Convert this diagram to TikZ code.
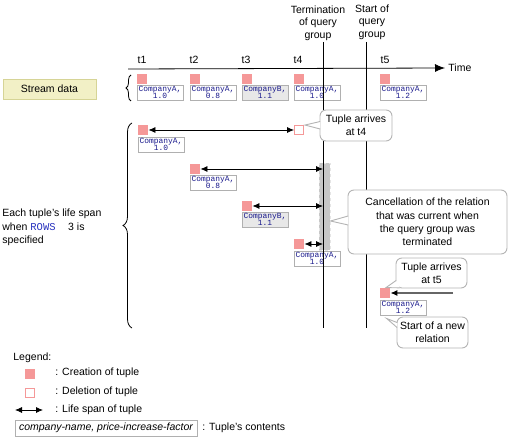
\documentclass[tikz,border=0pt]{standalone}
\usepackage{fontspec}
\setmainfont{Liberation Sans}
\setmonofont{Liberation Mono}
\usetikzlibrary{arrows.meta,calc,decorations.pathreplacing}

\definecolor{tuplepink}{RGB}{245,152,152}
\definecolor{tuplenavy}{RGB}{25,25,140}
\definecolor{rowsblue}{RGB}{40,50,190}
\definecolor{boxgray}{RGB}{176,176,176}
\definecolor{calloutgray}{RGB}{180,180,180}
\definecolor{streamfill}{RGB}{242,240,198}
\definecolor{streamedge}{RGB}{214,212,150}

\begin{document}
\begin{tikzpicture}[x=1pt,y=-1pt,line width=0.8pt,>={Latex[length=7pt,width=6pt]},
  font=\fontsize{10.5}{13.3}\selectfont,
  born/.style={fill=tuplepink,minimum size=10pt,inner sep=0pt},
  dead/.style={draw=tuplepink,fill=white,line width=0.9pt,minimum size=9pt,inner sep=0pt},
  tuple/.style={draw=boxgray,fill=white,line width=0.9pt,minimum width=46pt,minimum height=15pt,
    inner sep=0pt,align=center,text=tuplenavy,font=\fontsize{7.9}{7}\selectfont\ttfamily},
  callbox/.style={draw=calloutgray,fill=white,line width=0.9pt,rounded corners=6pt,align=center,inner sep=0pt},
  callline/.style={draw=calloutgray,fill=white,line width=0.9pt},
  cancelbar/.style={fill=black!22,draw=black!10,dashed,line width=0.9pt,inner sep=0pt}]
  \useasboundingbox (0,0) rectangle (508,438);

  % time axis and query group borders
  \coordinate (axis0) at (128,69);
  \node[anchor=west,inner sep=3pt] (time) at (445,68) {Time};
  \draw[-{Latex[length=10pt,width=8pt]}] (axis0) -- (time.west);
  \node (t1) at (142,60) {t1};
  \node (t2) at (194,60) {t2};
  \node (t3) at (246,60) {t3};
  \node (t4) at (298,60) {t4};
  \node (t5) at (385,60) {t5};
  \node[align=center,font=\fontsize{10.5}{12.5}\selectfont] (termlbl) at (318,23) {Termination\\of query\\group};
  \node[align=center,font=\fontsize{10.5}{12.5}\selectfont] (startlbl) at (372,22) {Start of\\query\\group};
  \coordinate (termtop) at (323,42);
  \coordinate (termbot) at (323,328);
  \coordinate (starttop) at (366,42);
  \coordinate (startbot) at (366,328);

  % stream data
  \node[draw=streamedge,fill=streamfill,line width=0.9pt,minimum width=93pt,minimum height=20pt] (stream) at (49.5,89) {Stream data};
  \coordinate (sbr0) at (131,101);
  \coordinate (sbr1) at (131,75);
  \draw[decorate,decoration={brace,amplitude=5pt}] (sbr0) -- (sbr1);
  \node[born] (s1) at (142,79.5) {};
  \node[tuple] (s1t) at (160,92.5) {CompanyA,\\1.0};
  \node[born] (s2) at (195,79.5) {};
  \node[tuple] (s2t) at (213,92.5) {CompanyA,\\0.8};
  \node[born] (s3) at (247,79.5) {};
  \node[tuple,fill=black!9] (s3t) at (265,92.5) {CompanyB,\\1.1};
  \node[born] (s4) at (299,79.5) {};
  \node[tuple] (s4t) at (317,92.5) {CompanyA,\\1.0};
  \node[born] (s5) at (385,79.5) {};
  \node[tuple] (s5t) at (403,92.5) {CompanyA,\\1.2};

  % life spans with ROWS 3
  \coordinate (lbr0) at (132,328);
  \coordinate (lbr1) at (132,123);
  \draw[decorate,decoration={brace,amplitude=9pt}] (lbr0) -- (lbr1);
  \node[anchor=west,align=left,inner sep=2pt] (life) at (0,227.5)
    {Each tuple's life span\\when {\ttfamily\color{rowsblue}ROWS}\hspace{1.2em}3 is\\specified};

  \node[cancelbar,minimum width=11pt,minimum height=87pt] (cancel) at (324.5,206.5) {};

  \node[born] (a1) at (143,130) {};
  \node[tuple] (a1t) at (161,144.5) {CompanyA,\\1.0};
  \node[dead] (a1x) at (299,130) {};
  \draw[<->] (a1.east) -- (a1x.west);

  \node[born] (a2) at (195,169) {};
  \node[tuple] (a2t) at (213,182.5) {CompanyA,\\0.8};
  \draw[<->] (a2.east) -- (a2 -| termtop);

  \node[born] (a3) at (247,206) {};
  \node[tuple,fill=black!9] (a3t) at (265,219.5) {CompanyB,\\1.1};
  \draw[<->] (a3.east) -- (a3 -| termtop);

  \node[born] (a4) at (299,244) {};
  \node[tuple] (a4t) at (317,258.5) {CompanyA,\\1.0};
  \draw[<->] (a4.east) -- (a4 -| termtop);

  \node[born] (a5) at (385,293) {};
  \node[tuple] (a5t) at (403,307.5) {CompanyA,\\1.2};
  \coordinate (a5from) at (453,293);
  \draw[black!60,line width=1.2pt,-{Latex[length=7pt,width=6pt,color=black]}] (a5from) -- (a5.east);

  \draw (termtop) -- (termbot);
  \draw (starttop) -- (startbot);

  % callouts
  \node[callbox,minimum width=72pt,minimum height=31pt] (arr4) at (356,125.5) {Tuple arrives\\at t4};
  \filldraw[callline] ([xshift=0.6pt,yshift=4pt]arr4.west) -- ([xshift=1pt]a1x.north east) -- ([xshift=0.6pt,yshift=-3.5pt]arr4.west);

  \node[callbox,minimum width=159pt,minimum height=64pt] (cancelnote) at (427.5,222)
    {Cancellation of the relation\\that was current when\\the query group was\\terminated};
  \filldraw[callline] ([xshift=0.6pt,yshift=6pt]cancelnote.west) -- ($(cancel.east)+(0,14.5)$) -- ([xshift=0.6pt,yshift=-3pt]cancelnote.west);

  \node[callbox,minimum width=71pt,minimum height=30pt] (arr5) at (431.5,273) {Tuple arrives\\at t5};
  \filldraw[callline] ([xshift=0.6pt,yshift=8pt]arr5.south west) -- ([xshift=1pt]a5.north) -- ([xshift=4pt,yshift=0.6pt]arr5.south west);

  \node[callbox,minimum width=71pt,minimum height=31pt] (newrel) at (432.5,332.5) {Start of a new\\relation};
  \filldraw[callline] ([xshift=0.6pt,yshift=-6pt]newrel.north west) -- ($(a5t.south west)+(7,3)$) -- ([xshift=0.6pt,yshift=-11pt]newrel.north west);

  % legend
  \node[anchor=west,inner sep=0pt] (legend) at (13,358) {Legend:};
  \node[born] (lgborn) at (30,373.5) {};
  \node[anchor=west,inner sep=0pt] (lgbornt) at (55,373) {: Creation of tuple};
  \node[dead] (lgdead) at (30,392.5) {};
  \node[anchor=west,inner sep=0pt] (lgdeadt) at (55,392) {: Deletion of tuple};
  \coordinate (lgspan0) at (15,410);
  \coordinate (lgspan1) at (43,410);
  \draw[<->] (lgspan0) -- (lgspan1);
  \node[anchor=west,inner sep=0pt] (lgspant) at (55,410) {: Life span of tuple};
  \node[draw=boxgray,line width=0.9pt,minimum width=182pt,minimum height=16pt,inner sep=0pt] (lgtuple) at (106,428)
    {\itshape company-name, price-increase-factor};
  \node[anchor=west,inner sep=0pt] (lgtuplet) at (202,428) {: Tuple's contents};
\end{tikzpicture}
\end{document}
